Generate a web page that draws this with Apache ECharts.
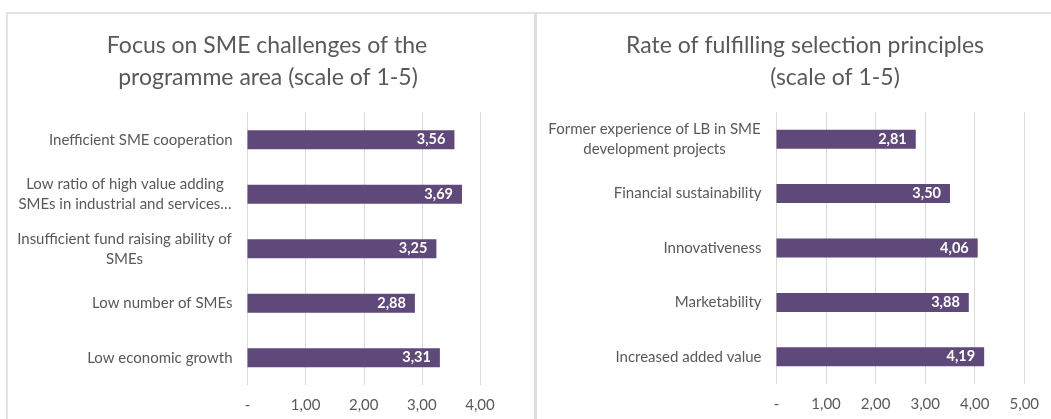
<!DOCTYPE html>
<html>
<head>
<meta charset="utf-8" />
<title>SME charts</title>
<style>
  html, body { margin: 0; padding: 0; background: #fff; }
  #main { width: 1051px; height: 419px; }
</style>
<script src="https://cdn.jsdelivr.net/npm/echarts@6/dist/echarts.min.js"></script>
</head>
<body>
<div id="main"></div>
<script>
// ---- data ----
var leftCategories = [
  'Inefficient SME cooperation',
  'Low ratio of high value adding\nSMEs in industrial and services…',
  'Insufficient fund raising ability of\nSMEs',
  'Low number of SMEs',
  'Low economic growth'
];
var leftValues = [3.56, 3.69, 3.25, 2.88, 3.31];

var rightCategories = [
  'Former experience of LB in SME\ndevelopment projects',
  'Financial sustainability',
  'Innovativeness',
  'Marketability',
  'Increased added value'
];
var rightValues = [2.81, 3.50, 4.06, 3.88, 4.19];

// ---- styles ----
var FONT = 'Lato, "Open Sans", sans-serif';
var TEXT = '#595959';
var GRID = '#d9d9d9';
var BAR = '#5e497a';
var CAT_SIZE = 15;

function fmt(v) {
  return v === 0 ? '-' : v.toFixed(2).replace('.', ',');
}

// multi-line category labels are centred as a block, single lines right aligned
var ctx = document.createElement('canvas').getContext('2d');
ctx.font = CAT_SIZE + 'px ' + FONT;
function buildRich(cats, prefix) {
  var rich = {};
  cats.forEach(function (c, i) {
    var w = 0;
    c.split('\n').forEach(function (l) { w = Math.max(w, ctx.measureText(l).width); });
    rich[prefix + i] = { width: Math.ceil(w) + 1, align: 'center', fontSize: CAT_SIZE, fontFamily: FONT, color: TEXT, lineHeight: 20 };
  });
  return rich;
}
function catLabel(cats, prefix) {
  return {
    color: TEXT, fontSize: CAT_SIZE, fontFamily: FONT, margin: 15, lineHeight: 20,
    rich: buildRich(cats, prefix),
    formatter: function (v, i) {
      return v.indexOf('\n') >= 0 ? '{' + prefix + i + '|' + v + '}' : v;
    }
  };
}

function valueAxis(gridIndex, max) {
  return {
    type: 'value', gridIndex: gridIndex, min: 0, max: max, interval: 1,
    axisLine: { show: false }, axisTick: { show: false },
    splitLine: { lineStyle: { color: GRID, width: 1 } },
    axisLabel: { color: TEXT, fontSize: 15, fontFamily: FONT, margin: 13, formatter: fmt }
  };
}

function catAxis(gridIndex, cats, prefix) {
  return {
    type: 'category', gridIndex: gridIndex, data: cats, inverse: true,
    axisLine: { show: false }, axisTick: { show: false },
    axisLabel: catLabel(cats, prefix)
  };
}

function barSeries(idx, values) {
  return {
    type: 'bar', xAxisIndex: idx, yAxisIndex: idx, data: values, barWidth: 19,
    itemStyle: { color: BAR },
    label: {
      show: true, position: 'insideRight', distance: 9,
      color: '#fff', fontWeight: 'bold', fontSize: 14.5, fontFamily: FONT,
      formatter: function (p) { return fmt(p.value); }
    }
  };
}

var titleStyle = { color: TEXT, fontSize: 23, fontWeight: 'normal', fontFamily: FONT };

var chart = echarts.init(document.getElementById('main'));
chart.setOption({
  animation: false,
  title: [
    { text: 'Focus on SME challenges of the', left: 262, top: 29, textAlign: 'center', textStyle: titleStyle },
    { text: 'programme area (scale of 1-5)', left: 263, top: 61, textAlign: 'center', textStyle: titleStyle },
    { text: 'Rate of fulfilling selection principles', left: 800, top: 29, textAlign: 'center', textStyle: titleStyle },
    { text: '(scale of 1-5)', left: 830, top: 61, textAlign: 'center', textStyle: titleStyle }
  ],
  grid: [
    { left: 247.5, top: 112.5, width: 232.5, height: 272.5 },
    { left: 776.5, top: 112, width: 247.8, height: 272 }
  ],
  xAxis: [valueAxis(0, 4), valueAxis(1, 5)],
  yAxis: [catAxis(0, leftCategories, 'a'), catAxis(1, rightCategories, 'b')],
  series: [barSeries(0, leftValues), barSeries(1, rightValues)],
  graphic: [
    { type: 'rect', shape: { x: 6, y: 12, width: 1045, height: 2 }, style: { fill: '#e3e3e3' }, silent: true },
    { type: 'rect', shape: { x: 6, y: 12, width: 2, height: 407 }, style: { fill: '#e3e3e3' }, silent: true },
    { type: 'rect', shape: { x: 534, y: 12, width: 3, height: 407 }, style: { fill: '#dedede' }, silent: true }
  ]
});
window.onresize = function () { chart.resize(); };
</script>
</body>
</html>
